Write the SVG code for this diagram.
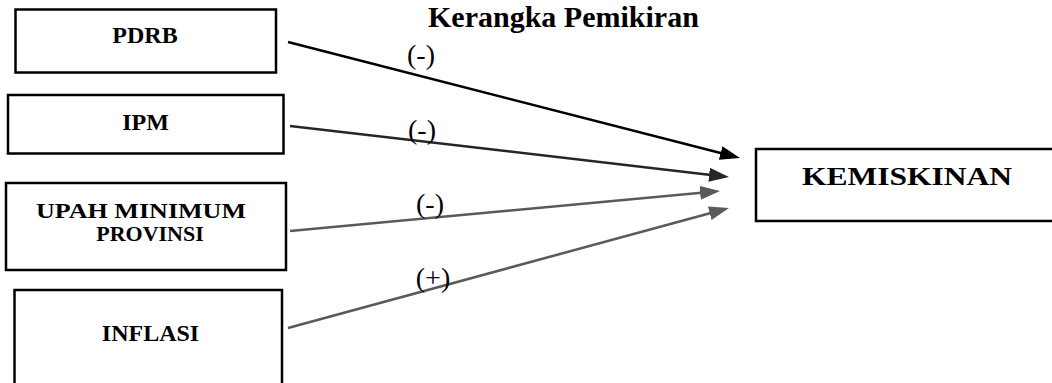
<svg xmlns="http://www.w3.org/2000/svg" width="1052" height="383" viewBox="0 0 1052 383">
<style>
.box{fill:#fff;stroke:#000;stroke-width:2.5}
.lbl{font-family:"Liberation Serif","Times New Roman",serif;font-weight:bold;fill:#000;text-anchor:middle}
.sign{font-family:"Liberation Serif","Times New Roman",serif;font-size:28px;fill:#000;text-anchor:middle}
.title{font-family:"Liberation Serif","Times New Roman",serif;font-weight:bold;font-size:30px;fill:#000}
</style>
<defs>
<marker id="ahBlack" markerUnits="userSpaceOnUse" markerWidth="20" markerHeight="14" refX="4" refY="7" orient="auto"><path d="M0,0 L20,7 L0,14 z" fill="#000"/></marker>
<marker id="ahDark" markerUnits="userSpaceOnUse" markerWidth="20" markerHeight="14" refX="4" refY="7" orient="auto"><path d="M0,0 L20,7 L0,14 z" fill="#262626"/></marker>
<marker id="ahGray" markerUnits="userSpaceOnUse" markerWidth="20" markerHeight="14" refX="4" refY="7" orient="auto"><path d="M0,0 L20,7 L0,14 z" fill="#5a5a5a"/></marker>
</defs>
<rect width="1052" height="383" fill="#fff"/>
<text class="title" x="428" y="27">Kerangka Pemikiran</text>
<g id="node-pdrb"><rect class="box" x="15.5" y="9.5" width="260.5" height="63"/><text class="lbl" x="145" y="43" font-size="24">PDRB</text></g>
<g id="node-ipm"><rect class="box" x="8" y="95" width="275.5" height="58.5"/><text class="lbl" x="145.5" y="130" font-size="24">IPM</text></g>
<g id="node-upah"><rect class="box" x="6" y="183" width="280" height="87"/><text class="lbl" x="141" y="218" font-size="22" textLength="210" lengthAdjust="spacingAndGlyphs">UPAH  MINIMUM</text><text class="lbl" x="150" y="241" font-size="22">PROVINSI</text></g>
<g id="node-inflasi"><rect class="box" x="14.5" y="290" width="267.5" height="110"/><text class="lbl" x="150.5" y="341" font-size="24">INFLASI</text></g>
<g id="node-kemiskinan"><rect class="box" x="756" y="149" width="310" height="72"/><text class="lbl" x="907" y="185" font-size="26" textLength="210" lengthAdjust="spacingAndGlyphs">KEMISKINAN</text></g>
<g id="connectors">
<line x1="288" y1="42" x2="724.5" y2="154" stroke="#000" stroke-width="2.5" marker-end="url(#ahBlack)"/>
<line x1="290" y1="126" x2="713.1" y2="175.2" stroke="#262626" stroke-width="2.5" marker-end="url(#ahDark)"/>
<line x1="290" y1="231" x2="704.1" y2="192.5" stroke="#5a5a5a" stroke-width="2.5" marker-end="url(#ahGray)"/>
<line x1="288" y1="328" x2="713.6" y2="212.2" stroke="#5a5a5a" stroke-width="2.5" marker-end="url(#ahGray)"/>
<text class="sign" x="421" y="64">(-)</text>
<text class="sign" x="422" y="139">(-)</text>
<text class="sign" x="430" y="213">(-)</text>
<text class="sign" x="433" y="287">(+)</text>
</g>
</svg>
